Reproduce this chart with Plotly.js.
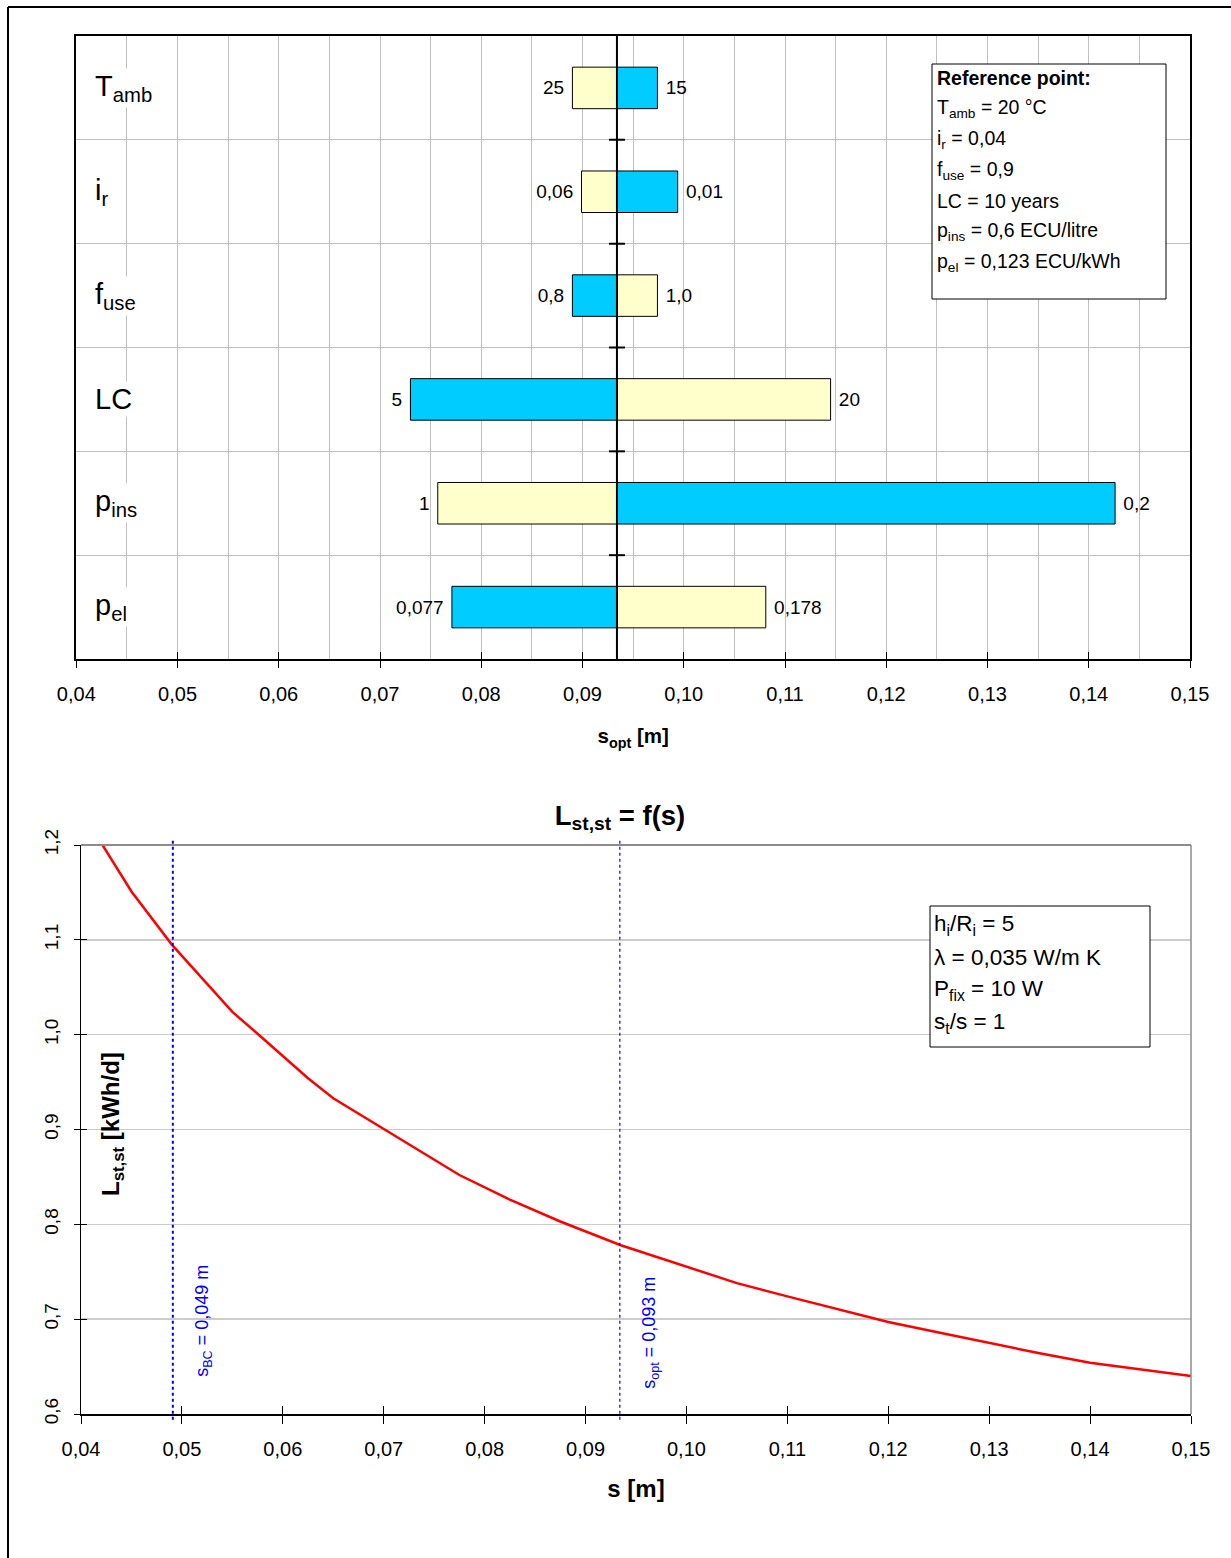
<!DOCTYPE html>
<html><head><meta charset="utf-8">
<script src="https://cdn.plot.ly/plotly-3.0.1.min.js"></script>
<style>html,body{margin:0;padding:0;background:#fff}#chart{width:1231px;height:1558px}</style>
</head><body><div id="chart"></div>
<script>
// ---------- data: sensitivity of s_opt ----------
const categories = ['Tamb', 'ir', 'fuse', 'LC', 'pins', 'pel'];
const categoryLabels = ['T<sub>amb</sub>', 'i<sub>r</sub>', 'f<sub>use</sub>', 'LC', 'p<sub>ins</sub>', 'p<sub>el</sub>'];
const sRef = 0.0934;
const sBlue   = [0.0974, 0.0994, 0.0890, 0.0730, 0.1426, 0.0771];
const sYellow = [0.0890, 0.0899, 0.0974, 0.1145, 0.0757, 0.1081];
const labelBlue   = ['15', '0,01', '0,8', '5', '0,2', '0,077'];
const labelYellow = ['25', '0,06', '1,0', '20', '1', '0,178'];
const refLines = ['<b>Reference point:</b>', 'T<sub>amb</sub> = 20 °C', 'i<sub>r</sub> = 0,04', 'f<sub>use</sub> = 0,9',
                  'LC = 10 years', 'p<sub>ins</sub> = 0,6 ECU/litre', 'p<sub>el</sub> = 0,123 ECU/kWh'];

// ---------- data: L_st,st = f(s) ----------
const sValues = [0.0416, 0.045, 0.049, 0.055, 0.0575, 0.0625, 0.065, 0.0725, 0.0775, 0.0825, 0.0875, 0.0935,
                 0.100, 0.105, 0.110, 0.120, 0.125, 0.130, 0.135, 0.140, 0.150];
const lValues = [1.209, 1.151, 1.095, 1.024, 1.001, 0.954, 0.933, 0.884, 0.852, 0.826, 0.803, 0.778,
                 0.755, 0.738, 0.724, 0.697, 0.686, 0.675, 0.664, 0.654, 0.640];
const sBC = 0.0491, sOpt = 0.0934;
const markerLabels = ['s<sub>BC</sub> = 0,049 m', 's<sub>opt</sub> = 0,093 m'];
const noteLines = ['h<sub>i</sub>/R<sub>i</sub> = 5', 'λ = 0,035 W/m K', 'P<sub>fix</sub> = 10 W', 's<sub>t</sub>/s = 1'];
const xTickRange = [0.04, 0.15];

// ---------- helpers ----------
const W = 1231, H = 1558;
const px = x => x / W;
const py = y => 1 - y / H;
const FONT = 'Arial, "Liberation Sans", sans-serif';
const padTpl = arr => arr.map(v => v > sRef ? '\u00a0%{text}' : '%{text}\u00a0');

const traces = [
  {type: 'bar', orientation: 'h', y: categories, x: sBlue.map(v => v - sRef), base: sRef, width: 0.4,
   marker: {color: '#00CCFF', line: {color: '#000', width: 1}}, text: labelBlue, texttemplate: padTpl(sBlue), textposition: 'outside',
   textfont: {size: 19, color: '#000'}, constraintext: 'none', cliponaxis: false, xaxis: 'x', yaxis: 'y', hoverinfo: 'skip'},
  {type: 'bar', orientation: 'h', y: categories, x: sYellow.map(v => v - sRef), base: sRef, width: 0.4,
   marker: {color: '#FFFFCC', line: {color: '#000', width: 1}}, text: labelYellow, texttemplate: padTpl(sYellow), textposition: 'outside',
   textfont: {size: 19, color: '#000'}, constraintext: 'none', cliponaxis: false, xaxis: 'x', yaxis: 'y', hoverinfo: 'skip'},
  {type: 'scatter', mode: 'lines', x: sValues, y: lValues, line: {color: '#FF0000', width: 2.5},
   xaxis: 'x2', yaxis: 'y2', hoverinfo: 'skip'},
  {type: 'scatter', mode: 'markers', x: [], y: [], xaxis: 'x3', yaxis: 'y', hoverinfo: 'skip'},
  {type: 'scatter', mode: 'markers', x: [], y: [], xaxis: 'x4', yaxis: 'y2', hoverinfo: 'skip'},
  {type: 'scatter', mode: 'markers', x: [], y: [], xaxis: 'x2', yaxis: 'y3', hoverinfo: 'skip'}
];

const shapes = [
  // page frame
  {type: 'line', xref: 'paper', yref: 'paper', x0: px(8), x1: px(8), y0: 0, y1: py(7), line: {color: '#000', width: 2}},
  {type: 'line', xref: 'paper', yref: 'paper', x0: px(8), x1: 1, y0: py(7), y1: py(7), line: {color: '#000', width: 2}},
  // reference line in bar chart
  {type: 'line', xref: 'x', yref: 'y domain', x0: sRef, x1: sRef, y0: 0, y1: 1, line: {color: '#000', width: 2}, layer: 'above'},
  // reference point box
  {type: 'rect', xref: 'paper', yref: 'paper', x0: px(932), x1: px(1166), y0: py(299), y1: py(64),
   line: {color: '#000', width: 1}, fillcolor: '#fff', layer: 'above'},
  // bottom plot frame (top / right in grey)
  {type: 'line', xref: 'x2 domain', yref: 'y2 domain', x0: 0, x1: 1, y0: 1, y1: 1, line: {color: '#8c8c8c', width: 2}},
  {type: 'line', xref: 'x2 domain', yref: 'y2 domain', x0: 1, x1: 1, y0: 0, y1: 1, line: {color: '#8c8c8c', width: 1.5}},
  // s_BC and s_opt markers
  {type: 'line', xref: 'x2', yref: 'y2 domain', x0: sBC, x1: sBC, y0: -0.01, y1: 1.01, line: {color: '#0000FF', width: 2, dash: 'dot'}},
  {type: 'line', xref: 'x2', yref: 'y2 domain', x0: sOpt, x1: sOpt, y0: -0.01, y1: 1.01, line: {color: '#0000FF', width: 1.2, dash: '3px,3px'}},
  // note box
  {type: 'rect', xref: 'paper', yref: 'paper', x0: px(930), x1: px(1150), y0: py(1047), y1: py(906),
   line: {color: '#000', width: 1}, fillcolor: '#fff', layer: 'above'}
];
// small ticks on the reference line at the category boundaries
for (let i = 0; i < categories.length - 1; i++) {
  shapes.push({type: 'line', xref: 'x', xsizemode: 'pixel', xanchor: sRef, x0: -8, x1: 8,
               yref: 'y', y0: i + 0.5, y1: i + 0.5, line: {color: '#000', width: 2}, layer: 'above'});
}

const annotations = [];
categoryLabels.forEach((t, i) => {
  annotations.push({xref: 'paper', yref: 'y', x: px(93), y: categories[i], xanchor: 'left', yanchor: 'middle',
    text: t, showarrow: false, bgcolor: '#fff', font: {size: 29, color: '#000'}});
});
refLines.forEach((t, i) => {
  annotations.push({xref: 'paper', yref: 'paper', x: px(935), y: py(78 + i * 30.7), xanchor: 'left', yanchor: 'middle',
    text: t, showarrow: false, font: {size: 19.5, color: '#000'}});
});
noteLines.forEach((t, i) => {
  annotations.push({xref: 'paper', yref: 'paper', x: px(932), y: py(925 + i * 32.7), xanchor: 'left', yanchor: 'middle',
    text: t, showarrow: false, font: {size: 22.5, color: '#000'}});
});
[sBC, sOpt].forEach((v, i) => {
  annotations.push({xref: 'x2', yref: 'paper', x: v, xshift: 30, y: py(i === 0 ? 1321 : 1333), xanchor: 'center', yanchor: 'middle',
    text: markerLabels[i], textangle: -90, showarrow: false, font: {size: 18, color: '#0000FF'}});
});
annotations.push({xref: 'paper', yref: 'paper', x: px(112), y: py(1124), xanchor: 'center', yanchor: 'middle',
  text: '<b>L<sub>st,st</sub> [kWh/d]</b>', textangle: -90, showarrow: false, font: {size: 24, color: '#000'}});

const layout = {
  width: W, height: H, margin: {l: 0, r: 0, t: 0, b: 0},
  paper_bgcolor: '#fff', plot_bgcolor: '#fff',
  font: {family: FONT, color: '#000'},
  separators: ', ', showlegend: false, barmode: 'overlay',
  title: {text: '<b>L<sub>st,st</sub> = f(s)</b>', x: px(620), y: py(815), xanchor: 'center', yanchor: 'middle',
          font: {size: 27.5, color: '#000'}},
  xaxis: {domain: [px(76.3), px(1190)], anchor: 'y', range: xTickRange, tick0: 0.04, dtick: 0.01, tickformat: '.2f',
          ticks: 'outside', ticklen: 7, tickcolor: '#000', ticklabelstandoff: 9, tickfont: {size: 20},
          showgrid: true, gridcolor: '#c0c0c0', gridwidth: 1,
          minor: {tick0: 0.04, dtick: 0.005, showgrid: true, gridcolor: '#c0c0c0', gridwidth: 1, ticks: ''},
          showline: true, linecolor: '#000', linewidth: 2, mirror: true, zeroline: false, fixedrange: true,
          title: {text: '<b>s<sub>opt</sub> [m]</b>', font: {size: 20.5}, standoff: 25}},
  xaxis3: {overlaying: 'x', anchor: 'y', range: xTickRange, tick0: 0.04, dtick: 0.01, ticks: 'inside', ticklen: 7,
           tickcolor: '#000', showticklabels: false, showgrid: false, zeroline: false, showline: false},
  yaxis: {domain: [py(659), py(36)], anchor: 'x', type: 'category', categoryorder: 'array', categoryarray: categories,
          range: [5.5, -0.5], tickson: 'boundaries', ticks: '', showticklabels: false,
          showgrid: true, gridcolor: '#c0c0c0', gridwidth: 1,
          showline: true, linecolor: '#000', linewidth: 2, mirror: true, zeroline: false, fixedrange: true},
  xaxis2: {domain: [px(81), px(1191)], anchor: 'y2', range: xTickRange, tick0: 0.04, dtick: 0.01, tickformat: '.2f',
           ticks: 'outside', ticklen: 8, tickcolor: '#000', ticklabelstandoff: 8, tickfont: {size: 20},
           showgrid: false, showline: true, linecolor: '#000', linewidth: 2, zeroline: false, fixedrange: true,
           title: {text: '<b>s [m]</b>', font: {size: 24}, standoff: 21}},
  xaxis4: {overlaying: 'x2', anchor: 'y2', range: xTickRange, tick0: 0.04, dtick: 0.01, ticks: 'inside', ticklen: 8,
           tickcolor: '#000', showticklabels: false, showgrid: false, zeroline: false, showline: false},
  yaxis2: {domain: [py(1414), py(845)], anchor: 'x2', range: [0.6, 1.2], tick0: 0.6, dtick: 0.1, tickformat: '.1f',
           tickangle: -90, ticks: 'outside', ticklen: 6, tickcolor: '#000', ticklabelstandoff: 8, tickfont: {size: 19},
           showgrid: true, gridcolor: '#cccccc', gridwidth: 1.5,
           showline: true, linecolor: '#000', linewidth: 1.5, zeroline: false, fixedrange: true},
  yaxis3: {overlaying: 'y2', anchor: 'x2', range: [0.6, 1.2], tick0: 0.6, dtick: 0.1, ticks: 'inside', ticklen: 6,
           tickcolor: '#000', showticklabels: false, showgrid: false, zeroline: false, showline: false},
  shapes: shapes,
  annotations: annotations
};

Plotly.newPlot('chart', traces, layout, {staticPlot: true, displayModeBar: false});
</script>
</body></html>
